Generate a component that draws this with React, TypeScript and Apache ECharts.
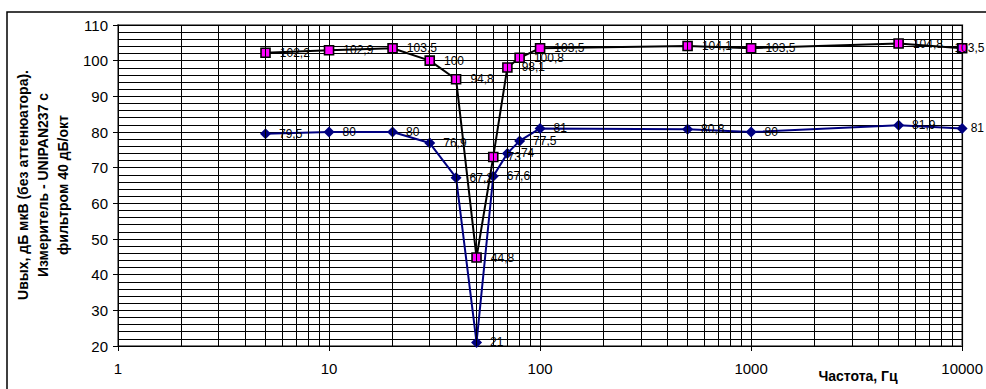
import React, { useEffect, useRef } from "react";
import * as echarts from "echarts";

const frequencies = [5, 10, 20, 30, 40, 50, 60, 70, 80, 100, 500, 1000, 5000, 10000];
const withoutFilter = [79.5, 80, 80, 76.9, 67.2, 21, 67.6, 74, 77.5, 81, 80.8, 80, 81.9, 81];
const withFilter = [102.2, 102.9, 103.5, 100, 94.8, 44.8, 73, 98.1, 100.8, 103.5, 104.1, 103.5, 104.8, 103.5];
const decades = [1, 10, 100, 1000];
const minorMultipliers = [2, 3, 4, 5, 6, 7, 8, 9];
const yAxisTitle = "Uвых, дБ мкВ (без аттенюатора).\nИзмеритель - UNIPAN237 с\nфильтром 40 дБ/окт";
const xAxisTitle = "Частота, Гц";

const FONT = "'Liberation Sans', Arial, sans-serif";

export default function App() {
  const ref = useRef<HTMLDivElement>(null);
  useEffect(() => {
    if (!ref.current) return;
    const chart = echarts.init(ref.current, null, { renderer: "svg" });
    const fmt = (p: any) => String(p.value[1]).replace(".", ",");
    const minorX = decades.flatMap((d) => minorMultipliers.map((m) => m * d));
    const last = frequencies.length - 1;
    chart.setOption({
      animation: false,
      textStyle: { fontFamily: FONT },
      grid: {
        left: 118,
        right: 20,
        top: 25,
        bottom: 43,
        show: true,
        borderColor: "#808080",
        borderWidth: 2,
        backgroundColor: "#fff",
      },
      xAxis: {
        type: "log",
        logBase: 10,
        min: 1,
        max: 10000,
        axisLine: { show: true, onZero: false, lineStyle: { color: "#000", width: 1 } },
        axisTick: { show: true, length: 5, lineStyle: { color: "#000" } },
        axisLabel: {
          color: "#000",
          fontSize: 15,
          margin: 15,
          fontFamily: FONT,
          formatter: (v: number) => String(Math.round(v)),
        },
        splitLine: { show: true, lineStyle: { color: "#000", width: 1 } },
      },
      yAxis: {
        type: "value",
        min: 20,
        max: 110,
        interval: 10,
        axisLine: { show: true, lineStyle: { color: "#000", width: 1 } },
        axisTick: { show: true, length: 5, lineStyle: { color: "#000" } },
        axisLabel: { color: "#000", fontSize: 15, margin: 10, fontFamily: FONT },
        splitLine: { show: true, lineStyle: { color: "#000", width: 1 } },
        minorTick: { show: false, splitNumber: 5 },
        minorSplitLine: { show: true, lineStyle: { color: "#000", width: 1 } },
      },
      graphic: [
        {
          type: "rect",
          shape: { x: 7, y: 12, width: 1200, height: 600 },
          style: { fill: "none", stroke: "#000", lineWidth: 1.5 },
          z: -10,
          silent: true,
        },
        {
          type: "text",
          x: 43,
          y: 185,
          rotation: Math.PI / 2,
          style: {
            text: yAxisTitle,
            font: `bold 14px ${FONT}`,
            fill: "#000",
            textAlign: "center",
            textVerticalAlign: "middle",
            lineHeight: 20,
          },
        },
        {
          type: "text",
          x: 858,
          y: 376,
          style: {
            text: xAxisTitle,
            font: `bold 14px ${FONT}`,
            fill: "#000",
            textAlign: "center",
            textVerticalAlign: "middle",
          },
        },
      ],
      series: [
        {
          type: "line",
          data: [],
          silent: true,
          markLine: {
            silent: true,
            symbol: ["none", "none"],
            label: { show: false },
            lineStyle: { color: "#000", width: 1, type: "solid" },
            data: minorX.map((v) => ({ xAxis: v })),
          },
        },
        {
          type: "line",
          clip: false,
          data: frequencies.map((f, i) =>
            i === last
              ? { value: [f, withoutFilter[i]], label: { distance: 3 } }
              : { value: [f, withoutFilter[i]] }
          ),
          symbol: "diamond",
          symbolSize: [11, 11],
          itemStyle: { color: "#000080" },
          lineStyle: { color: "#000080", width: 2 },
          label: {
            show: true,
            position: "right",
            distance: 8,
            color: "#000",
            fontSize: 12,
            fontFamily: FONT,
            formatter: fmt,
          },
          z: 3,
        },
        {
          type: "line",
          clip: false,
          data: frequencies.map((f, i) =>
            i === last
              ? { value: [f, withFilter[i]], label: { offset: [-22, 0] } }
              : { value: [f, withFilter[i]] }
          ),
          symbol: "rect",
          symbolSize: [9, 9],
          itemStyle: { color: "#FF00FF", borderColor: "#000", borderWidth: 1.6 },
          lineStyle: { color: "#000", width: 2 },
          label: {
            show: true,
            position: "right",
            distance: 9,
            color: "#000",
            fontSize: 12,
            fontFamily: FONT,
            formatter: fmt,
          },
          z: 4,
        },
      ],
    });
    return () => chart.dispose();
  }, []);
  return (
    <div
      ref={ref}
      style={{ position: "fixed", left: 0, top: 0, width: 986, height: 389, background: "#fff" }}
    />
  );
}
